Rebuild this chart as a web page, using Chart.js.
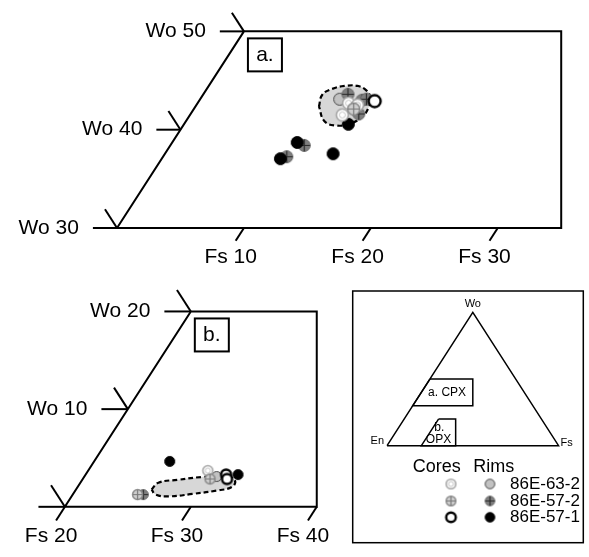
<!DOCTYPE html>
<html>
<head>
<meta charset="utf-8">
<script src="https://cdn.jsdelivr.net/npm/chart.js@4.4.1/dist/chart.umd.min.js"></script>
<style>
  html, body { margin: 0; padding: 0; background: #fff; }
  canvas { display: block; }
</style>
</head>
<body>
<canvas id="pyx" width="589" height="557"></canvas>
<script>
// pyroxene analyses, mol % as [Fs, Wo]
const cpxCores632 = [[11.9, 42.7], [12.7, 42.5], [12.0, 41.5]];
const cpxRims632 = [[11.0, 43.1]];
const cpxCores572 = [[12.6, 42.1]];
const cpxRims572 = [[11.4, 43.6], [12.8, 43.0], [13.1, 43.1], [13.25, 41.6], [10.55, 38.4], [9.75, 37.25]];
const cpxCores571 = [[13.85, 42.9]];
const cpxRims571 = [[12.95, 40.55], [9.85, 38.7], [9.35, 37.05], [13.25, 37.55]];

const opxCores632 = [[29.5, 3.7]];
const opxRims632 = [[30.5, 3.1]];
const opxCores572 = [[30.1, 2.85], [25.15, 1.25]];
const opxRims572 = [[25.6, 1.25]];
const opxCores571 = [[31.15, 3.3], [31.45, 2.85]];
const opxRims571 = [[26.0, 4.65], [32.1, 3.3]];

// shaded fields (dashed outlines)
const cpxField = [[9.73, 42.36], [9.40, 43.55], [9.88, 44.15], [10.73, 44.45], [11.73, 44.45], [12.64, 44.0],
  [13.32, 43.26], [13.71, 42.17], [13.60, 41.17], [12.96, 40.58], [11.96, 40.43], [10.89, 40.88]];
const opxField = [[26.0, 1.77], [26.19, 2.47], [27.59, 2.76], [29.38, 3.06], [31.03, 3.16], [32.09, 2.76],
  [32.28, 2.07], [31.24, 1.67], [29.47, 1.32], [27.66, 1.07], [26.56, 1.27]];

// axis ticks and labels
const woTicksA = [50, 40, 30];
const fsTicksA = [10, 20, 30];
const woLabelsA = [50, 40, 30];
const fsLabelsA = [10, 20, 30];
const woTicksB = [20, 10, 0];
const fsTicksB = [20, 30, 40];
const woLabelsB = [20, 10];
const fsLabelsB = [20, 30, 40];

const sampleNames = ['86E-63-2', '86E-57-2', '86E-57-1'];

const W = 589, H = 557;
const FONT = '"Liberation Sans", Arial, Helvetica, sans-serif';

// ternary -> horizontal position (Wo is the vertical one)
const tx = (fs, wo) => fs + wo / 2;

// where each diagram sits on the page
const panelA = {xId: 'xa', yId: 'ya', fsMin: 0, woMin: 30, woMax: 50, xMax: 50, corner: [112.7, 226.7],
  pxX: 13.0, pxY: 10.085, hTick: 1.9, dTick: 1.9, fsTick: 1.3, tag: 'a.',
  woTicks: woTicksA, fsTicks: fsTicksA, woLabels: woLabelsA, fsLabels: fsLabelsA, r: 6};
const panelB = {xId: 'xb', yId: 'yb', fsMin: 20, woMin: 0, woMax: 20, xMax: 40, corner: [59.3, 512.7],
  pxX: 12.9, pxY: 10.02, hTick: 2.1, dTick: 2.2, fsTick: 1.4, tag: 'b.',
  woTicks: woTicksB, fsTicks: fsTicksB, woLabels: woLabelsB, fsLabels: fsLabelsB, r: 5};
const keyTri = {xId: 'xk', yId: 'yk', fsMin: 0, woMin: 0, corner: [389.3, 450], pxX: 1.757, pxY: 1.367};

function scalesFor(p) {
  const cx = tx(p.fsMin, p.woMin);
  const xmin = cx - p.corner[0] / p.pxX;
  const ymax = p.woMin + p.corner[1] / p.pxY;
  return {
    [p.xId]: {type: 'linear', axis: 'x', display: false, min: xmin, max: xmin + W / p.pxX},
    [p.yId]: {type: 'linear', axis: 'y', display: false, min: ymax - H / p.pxY, max: ymax}
  };
}

const markerStyles = {
  core632: {fill: '#fff', stroke: '#a5a5a5', lw: 1.6, inner: '#c4c4c4'},
  rim632: {fill: '#c2c2c2', stroke: '#444', lw: 1},
  core572: {fill: '#cfcfcf', stroke: '#888', lw: 1.5, cross: '#7a7a7a'},
  rim572: {fill: '#7e7e7e', stroke: '#6a6a6a', lw: 1, cross: '#2a2a2a'},
  core571: {fill: '#fff', stroke: '#000', lw: 2.4},
  rim571: {fill: '#000', stroke: '#000', lw: 1}
};

function makeMarker(kind, r) {
  const st = markerStyles[kind];
  const s = Math.ceil(2 * r + 5);
  const c = document.createElement('canvas');
  c.width = c.height = s;
  const g = c.getContext('2d');
  const m = s / 2;
  g.beginPath();
  g.arc(m, m, r, 0, Math.PI * 2);
  g.fillStyle = st.fill;
  g.fill();
  g.lineWidth = st.lw;
  g.strokeStyle = st.stroke;
  g.stroke();
  if (st.inner) {
    g.beginPath();
    g.arc(m, m, r * 0.5, 0, Math.PI * 2);
    g.lineWidth = 1;
    g.strokeStyle = st.inner;
    g.stroke();
  }
  if (st.cross) {
    g.beginPath();
    g.moveTo(m - r, m); g.lineTo(m + r, m);
    g.moveTo(m, m - r); g.lineTo(m, m + r);
    g.lineWidth = 1.2;
    g.strokeStyle = st.cross;
    g.stroke();
  }
  return c;
}

const series = [
  {kind: 'rim632', a: cpxRims632, b: opxRims632},
  {kind: 'rim572', a: cpxRims572, b: opxRims572},
  {kind: 'rim571', a: cpxRims571, b: opxRims571},
  {kind: 'core632', a: cpxCores632, b: opxCores632},
  {kind: 'core572', a: cpxCores572, b: opxCores572},
  {kind: 'core571', a: cpxCores571, b: opxCores571}
];
const legendRows = [['core632', 'rim632'], ['core572', 'rim572'], ['core571', 'rim571']];

const pts = arr => arr.map(([fs, wo]) => ({x: tx(fs, wo), y: wo}));

function lineSet(p, arr, extra) {
  return Object.assign({
    data: pts(arr), xAxisID: p.xId, yAxisID: p.yId, showLine: true,
    borderColor: '#000', borderWidth: 2, pointRadius: 0, tension: 0, order: 9
  }, extra || {});
}

function frameCorners(p) {
  return [[p.fsMin, p.woMax], [p.xMax - p.woMax / 2, p.woMax], [p.xMax - p.woMin / 2, p.woMin],
    [p.fsMin, p.woMin], [p.fsMin, p.woMax]];
}

function tickSegments(p) {
  const segs = [];
  p.woTicks.forEach(wo => {
    segs.push([[p.fsMin - p.hTick, wo], [p.fsMin, wo]]);
    segs.push([[p.fsMin - p.dTick, wo + p.dTick], [p.fsMin, wo]]);
  });
  p.fsTicks.forEach(fs => segs.push([[fs, p.woMin], [fs, p.woMin - p.fsTick]]));
  return segs;
}

const datasets = [];
[[panelA, cpxField], [panelB, opxField]].forEach(([p, field]) => {
  datasets.push(lineSet(p, field.concat([field[0]]), {
    fill: 'shape', backgroundColor: '#d7d7d7', borderDash: [5, 3], borderWidth: 2.2, tension: 0.45, order: 10
  }));
  datasets.push(lineSet(p, frameCorners(p)));
  tickSegments(p).forEach(seg => datasets.push(lineSet(p, seg)));
});
series.forEach((s, i) => {
  [['a', panelA], ['b', panelB]].forEach(([key, p]) => {
    datasets.push({
      data: pts(s[key]), xAxisID: p.xId, yAxisID: p.yId,
      pointStyle: makeMarker(s.kind, p.r), pointRadius: p.r, order: 8 - i
    });
  });
});

// key triangle with the two plotted windows
const keyTriangle = [[0, 0], [100, 0], [0, 100], [0, 0]];
datasets.push(lineSet(keyTri, keyTriangle, {borderWidth: 1.5}));
datasets.push(lineSet(keyTri, frameCorners(panelA), {borderWidth: 1.5}));
datasets.push(lineSet(keyTri, frameCorners(panelB), {borderWidth: 1.5}));

const labelPlugin = {
  id: 'pyxLabels',
  afterDatasetsDraw(chart) {
    const ctx = chart.ctx;
    ctx.save();
    ctx.fillStyle = '#000';
    ctx.strokeStyle = '#000';
    ctx.textBaseline = 'middle';
    [panelA, panelB].forEach(p => {
      const sx = chart.scales[p.xId], sy = chart.scales[p.yId];
      const at = (fs, wo) => [sx.getPixelForValue(tx(fs, wo)), sy.getPixelForValue(wo)];
      ctx.font = '21px ' + FONT;
      ctx.textAlign = 'right';
      p.woLabels.forEach(wo => {
        const [x, y] = at(p.fsMin - p.hTick, wo);
        ctx.fillText('Wo ' + wo, x - 14, y);
      });
      ctx.textAlign = 'center';
      p.fsLabels.forEach(fs => {
        const [x, y] = at(fs, p.woMin - p.fsTick);
        ctx.fillText('Fs ' + fs, x - 5, y + 16);
      });
      const [vx, vy] = at(p.fsMin, p.woMax);
      ctx.lineWidth = 2;
      ctx.strokeRect(vx + 4, vy + 7, 34, 33);
      ctx.fillText(p.tag, vx + 21, vy + 24);
    });

    // key
    const kx = chart.scales.xk, ky = chart.scales.yk;
    const k = (x, wo) => [kx.getPixelForValue(x), ky.getPixelForValue(wo)];
    ctx.lineWidth = 1.5;
    ctx.strokeRect(352.7, 291, 230.6, 251.7);
    ctx.font = '11px ' + FONT;
    let [x, y] = k(50, 100);
    ctx.textAlign = 'center';
    ctx.fillText('Wo', x, y - 8);
    [x, y] = k(0, 0);
    ctx.textAlign = 'right';
    ctx.fillText('En', x - 3, y - 5);
    [x, y] = k(100, 0);
    ctx.textAlign = 'left';
    ctx.fillText('Fs', x + 2, y - 3);
    ctx.font = '12px ' + FONT;
    ctx.textAlign = 'center';
    [x, y] = k(35, 40);
    ctx.fillText('a. CPX', x, y);
    [x, y] = k(30.5, 13.4);
    ctx.fillText('b.', x, y);
    [x, y] = k(30, 4.2);
    ctx.fillText('OPX', x, y);

    ctx.font = '18px ' + FONT;
    ctx.fillText('Cores', 436.7, 466.7);
    ctx.fillText('Rims', 493.8, 466.7);
    ctx.font = '17px ' + FONT;
    ctx.textAlign = 'left';
    const rowY = [484, 501, 517.3];
    legendRows.forEach(([core, rim], i) => {
      const mc = makeMarker(core, 4.8), mr = makeMarker(rim, 4.8);
      ctx.drawImage(mc, 451 - mc.width / 2, rowY[i] - mc.height / 2);
      ctx.drawImage(mr, 490 - mr.width / 2, rowY[i] - mr.height / 2);
      ctx.fillText(sampleNames[i], 510, rowY[i]);
    });
    ctx.restore();
  }
};

new Chart(document.getElementById('pyx'), {
  type: 'scatter',
  data: {datasets},
  options: {
    responsive: false,
    animation: false,
    events: [],
    layout: {padding: 0},
    plugins: {legend: {display: false}, tooltip: {enabled: false}},
    scales: Object.assign({}, scalesFor(panelA), scalesFor(panelB), scalesFor(keyTri))
  },
  plugins: [labelPlugin]
});
</script>
</body>
</html>
